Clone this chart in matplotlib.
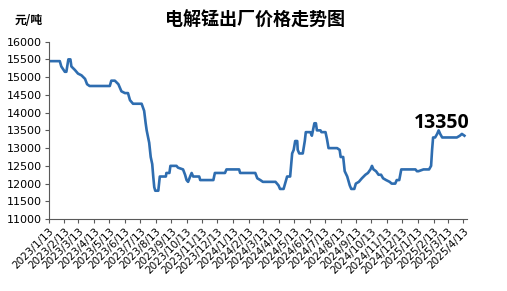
import matplotlib
matplotlib.use("Agg")
import matplotlib.pyplot as plt
import matplotlib.dates as mdates
import pandas as pd

title = "电解锰出厂价格走势图"
unit_label = "元/吨"
last_label = "13350"

dates = [
    "2023-01-13", "2023-02-04", "2023-02-07", "2023-02-14", "2023-02-17", "2023-02-21",
    "2023-02-25", "2023-02-27", "2023-03-06", "2023-03-12", "2023-03-19", "2023-03-26",
    "2023-03-30", "2023-04-04", "2023-05-14", "2023-05-17", "2023-05-24", "2023-05-31",
    "2023-06-06", "2023-06-13", "2023-06-19", "2023-06-23", "2023-06-29", "2023-07-16",
    "2023-07-21", "2023-07-24", "2023-07-26", "2023-07-31", "2023-08-03", "2023-08-06",
    "2023-08-08", "2023-08-10", "2023-08-12", "2023-08-18", "2023-08-21", "2023-09-02",
    "2023-09-03", "2023-09-09", "2023-09-11", "2023-09-23", "2023-09-26", "2023-10-06",
    "2023-10-10", "2023-10-13", "2023-10-16", "2023-10-20", "2023-10-23", "2023-10-26",
    "2023-11-07", "2023-11-09", "2023-12-05", "2023-12-08", "2023-12-28", "2023-12-31",
    "2024-01-25", "2024-01-27", "2024-02-26", "2024-03-01", "2024-03-07", "2024-03-12",
    "2024-04-06", "2024-04-12", "2024-04-15", "2024-04-22", "2024-04-25", "2024-04-29",
    "2024-05-05", "2024-05-09", "2024-05-12", "2024-05-15", "2024-05-19", "2024-05-20",
    "2024-05-23", "2024-05-30", "2024-06-03", "2024-06-05", "2024-06-14", "2024-06-17",
    "2024-06-22", "2024-06-25", "2024-06-27", "2024-07-04", "2024-07-06", "2024-07-14",
    "2024-07-17", "2024-07-20", "2024-08-06", "2024-08-11", "2024-08-13", "2024-08-18",
    "2024-08-21", "2024-08-26", "2024-08-31", "2024-09-03", "2024-09-09", "2024-09-12",
    "2024-09-18", "2024-09-24", "2024-10-01", "2024-10-06", "2024-10-11", "2024-10-14",
    "2024-10-17", "2024-10-22", "2024-10-27", "2024-11-01", "2024-11-05", "2024-11-11",
    "2024-11-18", "2024-11-22", "2024-11-29", "2024-12-02", "2024-12-07", "2024-12-11",
    "2025-01-08", "2025-01-11", "2025-01-14", "2025-01-24", "2025-02-04", "2025-02-08",
    "2025-02-10", "2025-02-12", "2025-02-16", "2025-02-20", "2025-02-23", "2025-02-26",
    "2025-03-02", "2025-03-31", "2025-04-06", "2025-04-10", "2025-04-15",
]
prices = [
    15450, 15450, 15300, 15150, 15150, 15500,
    15500, 15300, 15200, 15100, 15050, 14950,
    14800, 14750, 14750, 14900, 14900, 14800,
    14600, 14550, 14550, 14350, 14250, 14250,
    14050, 13700, 13500, 13150, 12750, 12550,
    12200, 11900, 11800, 11800, 12200, 12200,
    12300, 12300, 12500, 12500, 12450, 12400,
    12250, 12100, 12050, 12200, 12300, 12200,
    12200, 12100, 12100, 12300, 12300, 12400,
    12400, 12300, 12300, 12150, 12100, 12050,
    12050, 11950, 11850, 11850, 12000, 12200,
    12200, 12850, 12950, 13200, 13200, 12950,
    12850, 12850, 13200, 13450, 13450, 13350,
    13700, 13700, 13500, 13500, 13450, 13450,
    13250, 13000, 13000, 12950, 12750, 12750,
    12350, 12200, 11950, 11850, 11850, 12000,
    12050, 12150, 12250, 12300, 12400, 12500,
    12400, 12350, 12250, 12250, 12150, 12100,
    12050, 12000, 12000, 12100, 12100, 12400,
    12400, 12350, 12350, 12400, 12400, 12500,
    12950, 13300, 13300, 13400, 13500, 13400,
    13300, 13300, 13350, 13400, 13350,
]
tick_dates = pd.date_range("2023-01-13", periods=28, freq=pd.DateOffset(months=1))
tick_labels = [f"{d.year}/{d.month}/{d.day}" for d in tick_dates]
y_ticks = list(range(11000, 16001, 500))

x = pd.to_datetime(dates)

fig = plt.figure(figsize=(5.07, 2.91), dpi=100)
ax = fig.add_axes([0.096, 0.247, 0.825, 0.61])

ax.plot(x, prices, color="#2E6DB0", lw=1.9, solid_joinstyle="round")

ax.set_ylim(11000, 16000)
ax.set_yticks(y_ticks)
ax.set_yticklabels([str(v) for v in y_ticks], fontsize=8, family="DejaVu Sans")
ax.set_xlim(pd.Timestamp("2023-01-13"), pd.Timestamp("2025-04-20"))
ax.set_xticks(tick_dates)
ax.set_xticklabels(tick_labels, rotation=45, ha="right", va="top",
                   rotation_mode="anchor", fontsize=7.5, family="DejaVu Sans")

for s in ["top", "right"]:
    ax.spines[s].set_visible(False)
for s in ["left", "bottom"]:
    ax.spines[s].set_color("#595959")
    ax.spines[s].set_linewidth(0.8)
ax.tick_params(axis="both", direction="out", length=3, width=0.8, color="#595959",
               pad=2, labelcolor="#000000")

fig.text(0.502, 0.93, title, ha="center", va="center", fontsize=13,
         fontweight="bold", family=["Noto Sans CJK SC", "DejaVu Sans"])
fig.text(0.028, 0.93, unit_label, ha="left", va="center", fontsize=8.5,
         fontweight="bold", family=["Noto Sans CJK SC", "DejaVu Sans"])

ax.annotate(last_label, xy=(x[-1], prices[-1]), xytext=(-16, 9),
            textcoords="offset points", ha="center", va="center",
            fontsize=14, fontweight="bold", family=["Open Sans", "DejaVu Sans"])

fig.savefig("out.png", dpi=100)
